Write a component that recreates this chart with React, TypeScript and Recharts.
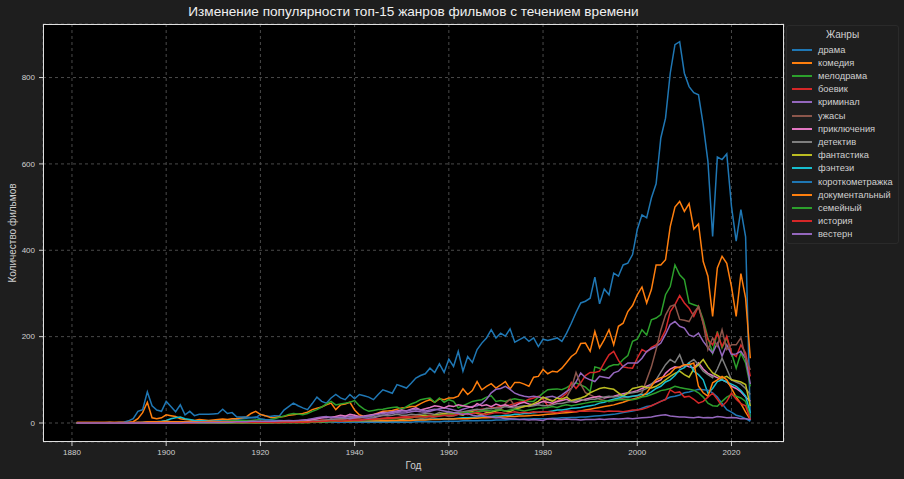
import React from 'react';
import { LineChart, Line, XAxis, YAxis, CartesianGrid } from 'recharts';

// years 1881..2024, one value per year (10 per row)
const YEARS: number[] = Array.from({ length: 144 }, (_, i) => 1881 + i);

const GENRES = [
    'драма', 'комедия', 'мелодрама', 'боевик', 'криминал',
    'ужасы', 'приключения', 'детектив', 'фантастика', 'фэнтези',
    'короткометражка', 'документальный', 'семейный', 'история', 'вестерн',
];

const COLORS = [
    '#1f77b4', '#ff7f0e', '#2ca02c', '#d62728', '#9467bd',
    '#8c564b', '#e377c2', '#7f7f7f', '#bcbd22', '#17becf',
    '#1f77b4', '#ff7f0e', '#2ca02c', '#d62728', '#9467bd',
];

const drama = [
    0, 0, 0, 0, 0, 0, 0, 0, 0, 0,
    0, 0, 0, 1, 1, 2, 1, 1, 1, 2,
    2, 2, 3, 2, 3, 2, 3, 3, 4, 4,
    5, 6, 6, 7, 8, 10, 11, 12, 12, 20,
    17, 15, 17, 16, 30, 38, 46, 40, 35, 31,
    45, 60, 50, 46, 58, 66, 58, 54, 66, 56,
    66, 63, 60, 54, 66, 77, 73, 69, 89, 85,
    81, 92, 104, 110, 114, 127, 117, 137, 117, 148,
    131, 166, 120, 154, 140, 170, 185, 197, 216, 197,
    208, 201, 218, 187, 193, 199, 189, 197, 177, 194,
    191, 194, 197, 189, 208, 231, 256, 278, 282, 289,
    338, 276, 310, 297, 347, 340, 366, 370, 390, 448,
    482, 475, 521, 554, 660, 706, 810, 876, 883, 810,
    779, 765, 760, 691, 606, 432, 616, 610, 623, 502,
    421, 494, 431, 6,
];
const comedy = [
    1, 1, 1, 1, 1, 1, 1, 2, 1, 2,
    2, 2, 3, 10, 24, 48, 12, 10, 12, 19,
    17, 15, 10, 8, 7, 6, 8, 7, 6, 7,
    8, 9, 8, 10, 10, 12, 14, 22, 27, 20,
    17, 13, 12, 14, 15, 18, 19, 21, 22, 25,
    31, 34, 37, 42, 46, 31, 42, 44, 48, 30,
    19, 15, 17, 19, 23, 27, 28, 29, 32, 35,
    36, 38, 39, 45, 50, 54, 48, 56, 54, 58,
    58, 62, 79, 66, 75, 96, 77, 85, 91, 81,
    88, 96, 79, 94, 94, 90, 85, 106, 108, 124,
    114, 120, 118, 127, 140, 154, 162, 184, 185, 166,
    212, 174, 193, 216, 181, 224, 231, 258, 272, 297,
    315, 278, 309, 366, 366, 378, 455, 500, 513, 490,
    508, 449, 461, 374, 340, 247, 359, 386, 370, 316,
    247, 346, 289, 150,
];
const melodrama = [
    0, 0, 0, 0, 0, 0, 0, 0, 0, 0,
    0, 0, 0, 0, 0, 1, 1, 1, 1, 2,
    2, 2, 2, 2, 2, 2, 3, 3, 3, 3,
    3, 4, 4, 5, 5, 6, 6, 6, 7, 8,
    7, 8, 10, 13, 16, 20, 22, 21, 19, 22,
    27, 31, 37, 44, 50, 42, 44, 46, 48, 52,
    40, 32, 27, 29, 31, 32, 34, 36, 37, 32,
    38, 44, 48, 54, 56, 58, 48, 58, 48, 54,
    50, 35, 40, 45, 50, 52, 54, 60, 63, 50,
    52, 50, 54, 56, 54, 52, 50, 50, 60, 69,
    77, 78, 79, 77, 82, 89, 93, 88, 83, 73,
    130, 127, 122, 131, 135, 135, 147, 156, 189, 194,
    216, 204, 239, 243, 251, 297, 316, 366, 343, 332,
    278, 274, 270, 239, 197, 162, 212, 174, 197, 162,
    127, 162, 139, 85,
];
const action = [
    0, 0, 0, 0, 0, 0, 0, 0, 0, 0,
    0, 0, 0, 0, 0, 0, 0, 0, 0, 1,
    1, 1, 1, 1, 1, 1, 1, 1, 1, 1,
    1, 1, 2, 2, 2, 2, 2, 2, 3, 3,
    3, 3, 3, 4, 4, 4, 5, 5, 5, 5,
    6, 6, 7, 7, 8, 8, 8, 9, 9, 10,
    9, 8, 8, 9, 10, 11, 12, 12, 13, 14,
    15, 15, 16, 16, 17, 18, 18, 20, 20, 22,
    22, 24, 25, 27, 28, 30, 32, 33, 35, 36,
    38, 40, 42, 45, 48, 50, 55, 58, 62, 55,
    40, 45, 50, 60, 69, 94, 80, 93, 110, 117,
    117, 120, 140, 158, 166, 145, 130, 128, 127, 150,
    170, 164, 175, 181, 193, 215, 258, 274, 295, 278,
    266, 247, 270, 231, 193, 181, 208, 177, 201, 162,
    154, 181, 162, 108,
];
const crime = [
    0, 0, 0, 0, 0, 0, 0, 0, 0, 0,
    0, 0, 0, 0, 0, 0, 0, 0, 0, 0,
    0, 0, 1, 1, 1, 1, 1, 1, 1, 1,
    1, 1, 1, 1, 1, 1, 1, 1, 1, 1,
    1, 1, 2, 2, 2, 3, 3, 4, 4, 5,
    8, 10, 12, 12, 14, 14, 12, 15, 16, 15,
    14, 12, 11, 12, 15, 18, 20, 22, 24, 23,
    24, 26, 28, 26, 25, 27, 30, 33, 35, 33,
    30, 28, 32, 35, 38, 40, 45, 55, 70, 78,
    80, 85, 78, 69, 65, 62, 60, 62, 60, 58,
    60, 62, 58, 65, 73, 80, 95, 116, 105, 100,
    96, 108, 106, 104, 116, 120, 131, 139, 139, 139,
    150, 166, 172, 177, 185, 205, 228, 235, 224, 220,
    204, 200, 208, 189, 175, 162, 185, 155, 181, 158,
    160, 166, 150, 90,
];
const horror = [
    0, 0, 0, 0, 0, 0, 0, 0, 0, 0,
    0, 0, 0, 0, 0, 0, 0, 0, 0, 0,
    0, 0, 0, 0, 0, 0, 0, 0, 0, 0,
    0, 0, 0, 0, 1, 1, 1, 1, 1, 1,
    1, 1, 1, 1, 1, 1, 1, 1, 1, 2,
    2, 3, 4, 5, 4, 3, 3, 3, 4, 3,
    3, 4, 5, 5, 4, 4, 3, 4, 4, 5,
    5, 6, 8, 10, 12, 11, 14, 16, 18, 15,
    16, 20, 22, 24, 22, 25, 28, 26, 24, 30,
    32, 45, 55, 40, 35, 38, 40, 42, 45, 50,
    55, 52, 50, 55, 60, 80, 117, 90, 70, 65,
    60, 55, 52, 50, 52, 55, 58, 60, 62, 62,
    70, 100, 130, 170, 215, 250, 270, 274, 240, 238,
    235, 255, 270, 231, 170, 197, 178, 216, 170, 181,
    181, 197, 150, 123,
];
const adventure = [
    0, 0, 0, 0, 0, 0, 0, 0, 0, 0,
    0, 0, 0, 0, 0, 0, 1, 1, 1, 1,
    1, 1, 1, 1, 1, 1, 1, 1, 1, 1,
    1, 1, 1, 2, 2, 2, 2, 2, 2, 2,
    2, 2, 3, 3, 4, 4, 5, 5, 6, 6,
    8, 10, 12, 14, 12, 15, 18, 16, 20, 18,
    15, 16, 18, 20, 22, 25, 24, 26, 28, 30,
    28, 32, 35, 30, 33, 36, 40, 38, 35, 40,
    38, 42, 40, 38, 36, 45, 40, 42, 38, 44,
    40, 42, 38, 40, 45, 48, 44, 42, 46, 50,
    48, 46, 50, 52, 55, 50, 48, 52, 55, 58,
    60, 62, 58, 60, 62, 65, 68, 70, 72, 75,
    80, 85, 90, 95, 100, 115, 125, 130, 128, 135,
    130, 128, 139, 125, 115, 110, 105, 100, 95, 85,
    80, 72, 60, 50,
];
const detective = [
    0, 0, 0, 0, 0, 0, 0, 0, 0, 0,
    0, 0, 0, 0, 0, 0, 0, 0, 0, 0,
    0, 0, 0, 0, 0, 0, 0, 1, 1, 1,
    1, 1, 1, 1, 1, 1, 1, 1, 1, 1,
    1, 1, 1, 1, 2, 2, 2, 2, 3, 3,
    4, 5, 6, 7, 8, 9, 10, 10, 12, 12,
    12, 14, 15, 14, 16, 18, 17, 18, 20, 18,
    18, 20, 19, 20, 22, 22, 20, 24, 22, 25,
    24, 25, 26, 28, 30, 32, 30, 34, 33, 35,
    35, 38, 36, 35, 38, 40, 38, 40, 42, 40,
    40, 42, 45, 45, 48, 50, 52, 55, 52, 55,
    55, 58, 60, 62, 60, 62, 65, 68, 70, 72,
    75, 80, 90, 100, 118, 135, 147, 140, 158, 130,
    140, 147, 135, 120, 112, 105, 125, 150, 125, 100,
    95, 90, 80, 66,
];
const scifi = [
    0, 0, 0, 0, 0, 0, 0, 0, 0, 0,
    0, 0, 0, 0, 0, 0, 0, 0, 0, 1,
    1, 2, 1, 1, 1, 1, 1, 1, 1, 1,
    0, 0, 0, 1, 1, 0, 1, 1, 0, 1,
    0, 1, 1, 1, 1, 1, 1, 2, 1, 1,
    2, 2, 2, 3, 3, 3, 2, 2, 3, 4,
    3, 3, 2, 2, 3, 4, 5, 6, 6, 8,
    10, 12, 14, 16, 18, 15, 18, 20, 22, 20,
    22, 20, 18, 24, 26, 22, 20, 24, 25, 28,
    30, 28, 26, 32, 35, 38, 40, 45, 50, 60,
    55, 50, 58, 55, 60, 52, 55, 58, 62, 70,
    75, 80, 82, 80, 78, 70, 62, 70, 80, 82,
    85, 82, 81, 85, 92, 100, 108, 115, 120, 112,
    106, 125, 135, 147, 130, 116, 110, 104, 108, 100,
    98, 95, 89, 39,
];
const fantasy = [
    0, 0, 0, 0, 0, 0, 0, 0, 0, 0,
    0, 0, 0, 0, 1, 2, 3, 3, 4, 6,
    10, 12, 14, 10, 8, 6, 5, 5, 4, 4,
    4, 3, 3, 3, 2, 2, 2, 2, 3, 3,
    2, 2, 2, 3, 3, 3, 3, 2, 2, 2,
    3, 3, 3, 3, 4, 4, 3, 3, 3, 4,
    4, 3, 3, 3, 4, 4, 5, 5, 5, 6,
    6, 7, 7, 8, 8, 8, 9, 9, 10, 10,
    10, 11, 12, 12, 13, 14, 14, 15, 15, 16,
    16, 18, 18, 20, 20, 22, 22, 24, 25, 26,
    26, 28, 30, 30, 32, 34, 35, 36, 38, 40,
    42, 46, 48, 52, 55, 58, 62, 60, 62, 64,
    66, 66, 72, 80, 85, 95, 100, 110, 123, 128,
    139, 120, 112, 100, 69, 80, 96, 100, 95, 90,
    85, 75, 62, 23,
];
const shortFilm = [
    0, 0, 0, 0, 0, 0, 0, 1, 0, 1,
    2, 5, 10, 27, 31, 72, 40, 30, 27, 50,
    38, 26, 42, 19, 27, 17, 20, 20, 20, 21,
    22, 32, 22, 24, 14, 14, 14, 13, 14, 10,
    8, 7, 6, 6, 5, 5, 4, 4, 4, 3,
    3, 3, 3, 3, 3, 2, 2, 2, 2, 2,
    2, 2, 2, 2, 2, 2, 2, 2, 2, 2,
    2, 2, 3, 3, 3, 3, 3, 3, 4, 4,
    4, 4, 5, 5, 5, 5, 6, 6, 6, 7,
    7, 7, 8, 8, 8, 9, 9, 10, 10, 10,
    10, 11, 11, 12, 12, 13, 13, 14, 14, 15,
    16, 17, 18, 19, 20, 22, 24, 26, 28, 30,
    34, 38, 40, 45, 50, 55, 60, 62, 65, 70,
    72, 75, 78, 77, 76, 70, 60, 45, 31, 25,
    18, 15, 10, 4,
];
const documentary = [
    1, 1, 1, 1, 1, 1, 1, 1, 1, 1,
    1, 1, 1, 2, 2, 3, 3, 3, 3, 4,
    3, 3, 3, 3, 3, 3, 3, 3, 3, 3,
    3, 3, 3, 3, 3, 3, 3, 3, 3, 3,
    2, 2, 2, 2, 3, 3, 3, 3, 3, 3,
    3, 3, 3, 4, 4, 4, 4, 4, 4, 5,
    5, 5, 5, 5, 5, 5, 5, 6, 6, 6,
    6, 6, 7, 7, 7, 8, 8, 8, 9, 9,
    9, 10, 10, 10, 11, 11, 12, 12, 13, 13,
    14, 14, 15, 15, 16, 16, 17, 18, 18, 19,
    20, 21, 22, 23, 24, 25, 26, 28, 30, 32,
    34, 36, 38, 40, 42, 45, 48, 52, 55, 58,
    62, 70, 85, 100, 105, 108, 115, 127, 130, 135,
    135, 139, 85, 70, 62, 93, 100, 108, 100, 80,
    60, 45, 25, 8,
];
const family = [
    0, 0, 0, 0, 0, 0, 0, 0, 0, 0,
    0, 0, 0, 0, 0, 0, 0, 0, 0, 0,
    0, 0, 0, 0, 0, 0, 0, 0, 0, 0,
    0, 0, 0, 0, 0, 0, 0, 0, 0, 0,
    0, 0, 1, 1, 1, 1, 1, 1, 1, 1,
    2, 2, 3, 3, 4, 5, 4, 5, 6, 5,
    6, 6, 7, 8, 8, 9, 10, 10, 11, 12,
    12, 13, 14, 14, 15, 16, 16, 18, 18, 20,
    20, 22, 24, 25, 24, 26, 28, 30, 28, 30,
    30, 28, 30, 32, 30, 28, 30, 32, 34, 35,
    36, 38, 36, 40, 42, 40, 42, 44, 46, 48,
    50, 50, 52, 50, 52, 54, 54, 55, 54, 56,
    60, 62, 66, 70, 75, 77, 80, 85, 82, 80,
    78, 76, 70, 60, 46, 40, 39, 50, 60, 66,
    62, 58, 50, 15,
];
const history = [
    0, 0, 0, 0, 0, 0, 0, 0, 0, 0,
    0, 0, 0, 0, 0, 0, 0, 0, 0, 0,
    0, 0, 0, 0, 0, 0, 1, 1, 1, 1,
    1, 1, 1, 1, 1, 1, 1, 1, 1, 1,
    1, 1, 1, 1, 2, 2, 2, 2, 2, 2,
    3, 3, 4, 4, 5, 5, 4, 5, 6, 6,
    6, 7, 8, 8, 9, 10, 10, 11, 12, 12,
    12, 13, 14, 15, 14, 16, 15, 16, 18, 18,
    18, 20, 22, 20, 22, 24, 22, 20, 22, 24,
    24, 22, 24, 26, 24, 25, 24, 26, 25, 26,
    26, 25, 24, 26, 28, 27, 26, 28, 27, 28,
    28, 27, 26, 28, 27, 27, 26, 28, 30, 30,
    32, 35, 40, 45, 50, 54, 77, 70, 72, 60,
    62, 55, 46, 50, 60, 69, 55, 39, 50, 69,
    55, 45, 40, 8,
];
const western = [
    0, 0, 0, 0, 0, 0, 0, 0, 0, 0,
    0, 0, 0, 0, 0, 0, 0, 0, 0, 0,
    0, 0, 0, 1, 1, 1, 1, 1, 1, 1,
    1, 1, 2, 2, 3, 3, 3, 4, 4, 4,
    4, 4, 4, 5, 5, 6, 5, 6, 7, 8,
    10, 12, 14, 15, 12, 13, 14, 12, 10, 12,
    14, 15, 16, 18, 20, 22, 24, 25, 26, 28,
    28, 30, 32, 30, 28, 30, 32, 30, 28, 26,
    24, 22, 20, 22, 18, 16, 18, 15, 14, 12,
    12, 10, 10, 9, 8, 8, 7, 8, 7, 6,
    10, 9, 8, 8, 9, 8, 8, 7, 8, 8,
    8, 9, 8, 9, 10, 9, 10, 11, 10, 11,
    12, 13, 14, 16, 18, 19, 16, 15, 14, 14,
    13, 12, 14, 12, 13, 12, 15, 14, 12, 13,
    12, 10, 10, 8,
];

const SERIES = [
    drama, comedy, melodrama, action, crime, horror, adventure, detective,
    scifi, fantasy, shortFilm, documentary, family, history, western,
];

const X_TICKS = [1880, 1900, 1920, 1940, 1960, 1980, 2000, 2020];
const Y_TICKS = [0, 200, 400, 600, 800];

const data = YEARS.map((year, i) => {
    const row: Record<string, number> = { year };
    SERIES.forEach((s, k) => {
        row[`g${k}`] = s[i];
    });
    return row;
});

const FONT = '"Liberation Sans", Arial, sans-serif';
const TEXT = '#d0d0d0';

const GenreLegend: React.FC = () => (
    <div
        style={{
            position: 'absolute', left: 786, top: 25, width: 113, height: 219,
            border: '1px solid #2a2a2a', borderRadius: 3, boxSizing: 'border-box',
            fontFamily: FONT, color: TEXT,
        }}
    >
        <div style={{ position: 'absolute', top: 3, width: '100%', textAlign: 'center', fontSize: 10 }}>Жанры</div>
        {GENRES.map((g, i) => (
            <div key={g} style={{ position: 'absolute', left: 5, top: 17 + i * 13.2, height: 13, display: 'flex', alignItems: 'center' }}>
                <div style={{ width: 20, height: 2, background: COLORS[i] }} />
                <span style={{ marginLeft: 6, fontSize: 9.3, whiteSpace: 'nowrap' }}>{g}</span>
            </div>
        ))}
    </div>
);

export default function App() {
    return (
        <div style={{ position: 'absolute', left: 0, top: 0, width: 904, height: 479, background: '#1e1e1e', overflow: 'hidden' }}>
            <div style={{ position: 'absolute', left: 43, width: 741, top: 4, textAlign: 'center', fontFamily: FONT, fontSize: 13.6, color: '#f0f0f0' }}>
                Изменение популярности топ-15 жанров фильмов с течением времени
            </div>
            <LineChart width={904} height={479} data={data} margin={{ top: 24, right: 120, bottom: 0, left: 0 }}>
                <CartesianGrid stroke="#4a4a4a" strokeDasharray="3 3" fill="#000" fillOpacity={1} />
                <XAxis
                    dataKey="year"
                    type="number"
                    domain={[1873.85, 2031.15]}
                    ticks={X_TICKS}
                    allowDataOverflow
                    height={37}
                    axisLine={false}
                    tickLine={{ stroke: '#ccc' }}
                    tickSize={4}
                    tickMargin={3}
                    tick={{ fill: TEXT, fontSize: 8, fontFamily: FONT }}
                />
                <YAxis
                    type="number"
                    domain={[-44, 924]}
                    ticks={Y_TICKS}
                    allowDataOverflow
                    width={43}
                    axisLine={false}
                    tickLine={{ stroke: '#ccc' }}
                    tickSize={4}
                    tickMargin={4}
                    tick={{ fill: TEXT, fontSize: 8, fontFamily: FONT }}
                />
                {SERIES.map((_, k) => (
                    <Line
                        key={GENRES[k]}
                        type="linear"
                        dataKey={`g${k}`}
                        stroke={COLORS[k]}
                        strokeWidth={1.5}
                        dot={false}
                        isAnimationActive={false}
                    />
                ))}
            </LineChart>
            <div style={{ position: 'absolute', left: 43, top: 24, width: 741, height: 418, border: '1px solid #e0e0e0', boxSizing: 'border-box', pointerEvents: 'none' }} />
            <div style={{ position: 'absolute', left: 43, width: 741, top: 460, textAlign: 'center', fontFamily: FONT, fontSize: 10, color: TEXT }}>Год</div>
            <div
                style={{
                    position: 'absolute', left: 12, top: 233, transform: 'translate(-50%, -50%) rotate(-90deg)',
                    whiteSpace: 'nowrap', fontFamily: FONT, fontSize: 10, color: TEXT,
                }}
            >
                Количество фильмов
            </div>
            <GenreLegend />
        </div>
    );
}
